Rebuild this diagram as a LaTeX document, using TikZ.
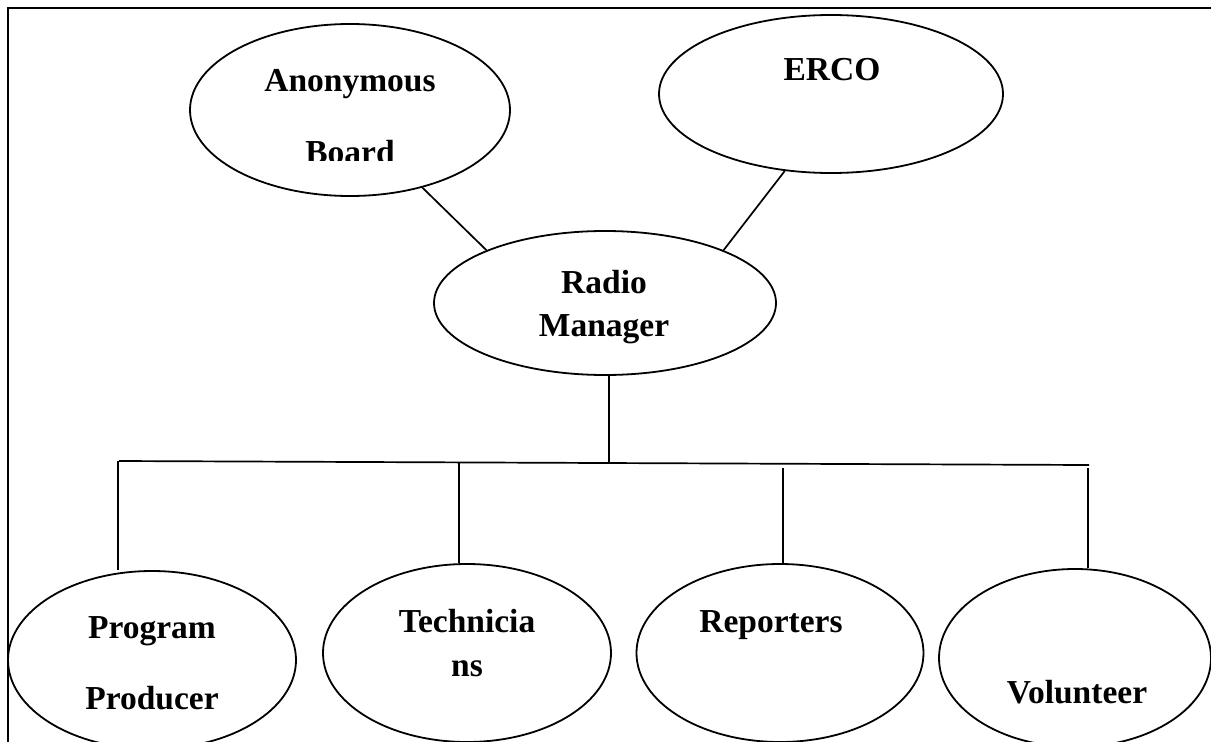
\documentclass[tikz,border=0pt]{standalone}
\usepackage{fontspec}
\setmainfont{Liberation Serif}
\usetikzlibrary{shapes.geometric}

\begin{document}
\begin{tikzpicture}[x=1pt,y=-1pt,
  box/.style={draw, ellipse, line width=1.8pt, inner sep=0pt},
  lbl/.style={anchor=base, inner sep=0pt, font=\fontsize{33.5}{40}\selectfont\bfseries},
  link/.style={line width=1.7pt}]
\path[use as bounding box, clip] (0,0) rectangle (1211,742);

% frame
\draw[line width=2.6pt] (8,742) -- (8,8) -- (1211,8);

% ellipses
\node[box, minimum width=320pt, minimum height=172pt] (anon)  at (350,110) {};
\node[box, minimum width=344pt, minimum height=158pt] (erco)  at (831,94)  {};
\node[box, minimum width=342pt, minimum height=144pt] (radio) at (605,303) {};
\node[box, minimum width=288pt, minimum height=178pt] (prog)  at (152,660) {};
\node[box, minimum width=288pt, minimum height=178pt] (tech)  at (467,653) {};
\node[box, minimum width=287pt, minimum height=178pt] (rep)   at (780,653) {};
\node[box, minimum width=272pt, minimum height=178pt] (vol)   at (1075,658) {};

% labels
\node[lbl] (anon-t)  at (350,91)  {Anonymous};
\begin{scope}
  \clip (150,20) rectangle (550,160);
  \node[lbl] (anon-b) at (350,163) {Board};
\end{scope}
\node[lbl] (erco-t)  at (832,80)  {ERCO};
\node[lbl] (radio-t) at (604,293) {Radio};
\node[lbl] (radio-b) at (604,336) {Manager};
\node[lbl] (prog-t)  at (152,638) {Program};
\node[lbl] (prog-b)  at (152,709) {Producer};
\node[lbl] (tech-t)  at (467,632) {Technicia};
\node[lbl] (tech-b)  at (467,676) {ns};
\node[lbl] (rep-t)   at (771,632) {Reporters};
\node[lbl] (vol-t)   at (1077,703) {Volunteer};

% links to the manager
\draw[link] (anon.-47) -- (radio.156);
\draw[link] (erco.-121) -- (radio.24);

% bus to the staff
\coordinate (busL) at (119,461);
\coordinate (busR) at (1089,465);
\coordinate (busM) at (609,463);
\draw[link] (busL) -- (busR);
\draw[link] (radio.south -| busM) -- (busM);

\coordinate (dprog) at (118,461);
\coordinate (dtech) at (459,462);
\coordinate (drep)  at (783,468);
\coordinate (dvol)  at (1088,468);
\draw[link] (dprog) -- (dprog |- prog.north);
\draw[link] (dtech) -- (dtech |- tech.north);
\draw[link] (drep)  -- (drep |- rep.north);
\draw[link] (dvol)  -- (dvol |- vol.north);
\end{tikzpicture}
\end{document}
